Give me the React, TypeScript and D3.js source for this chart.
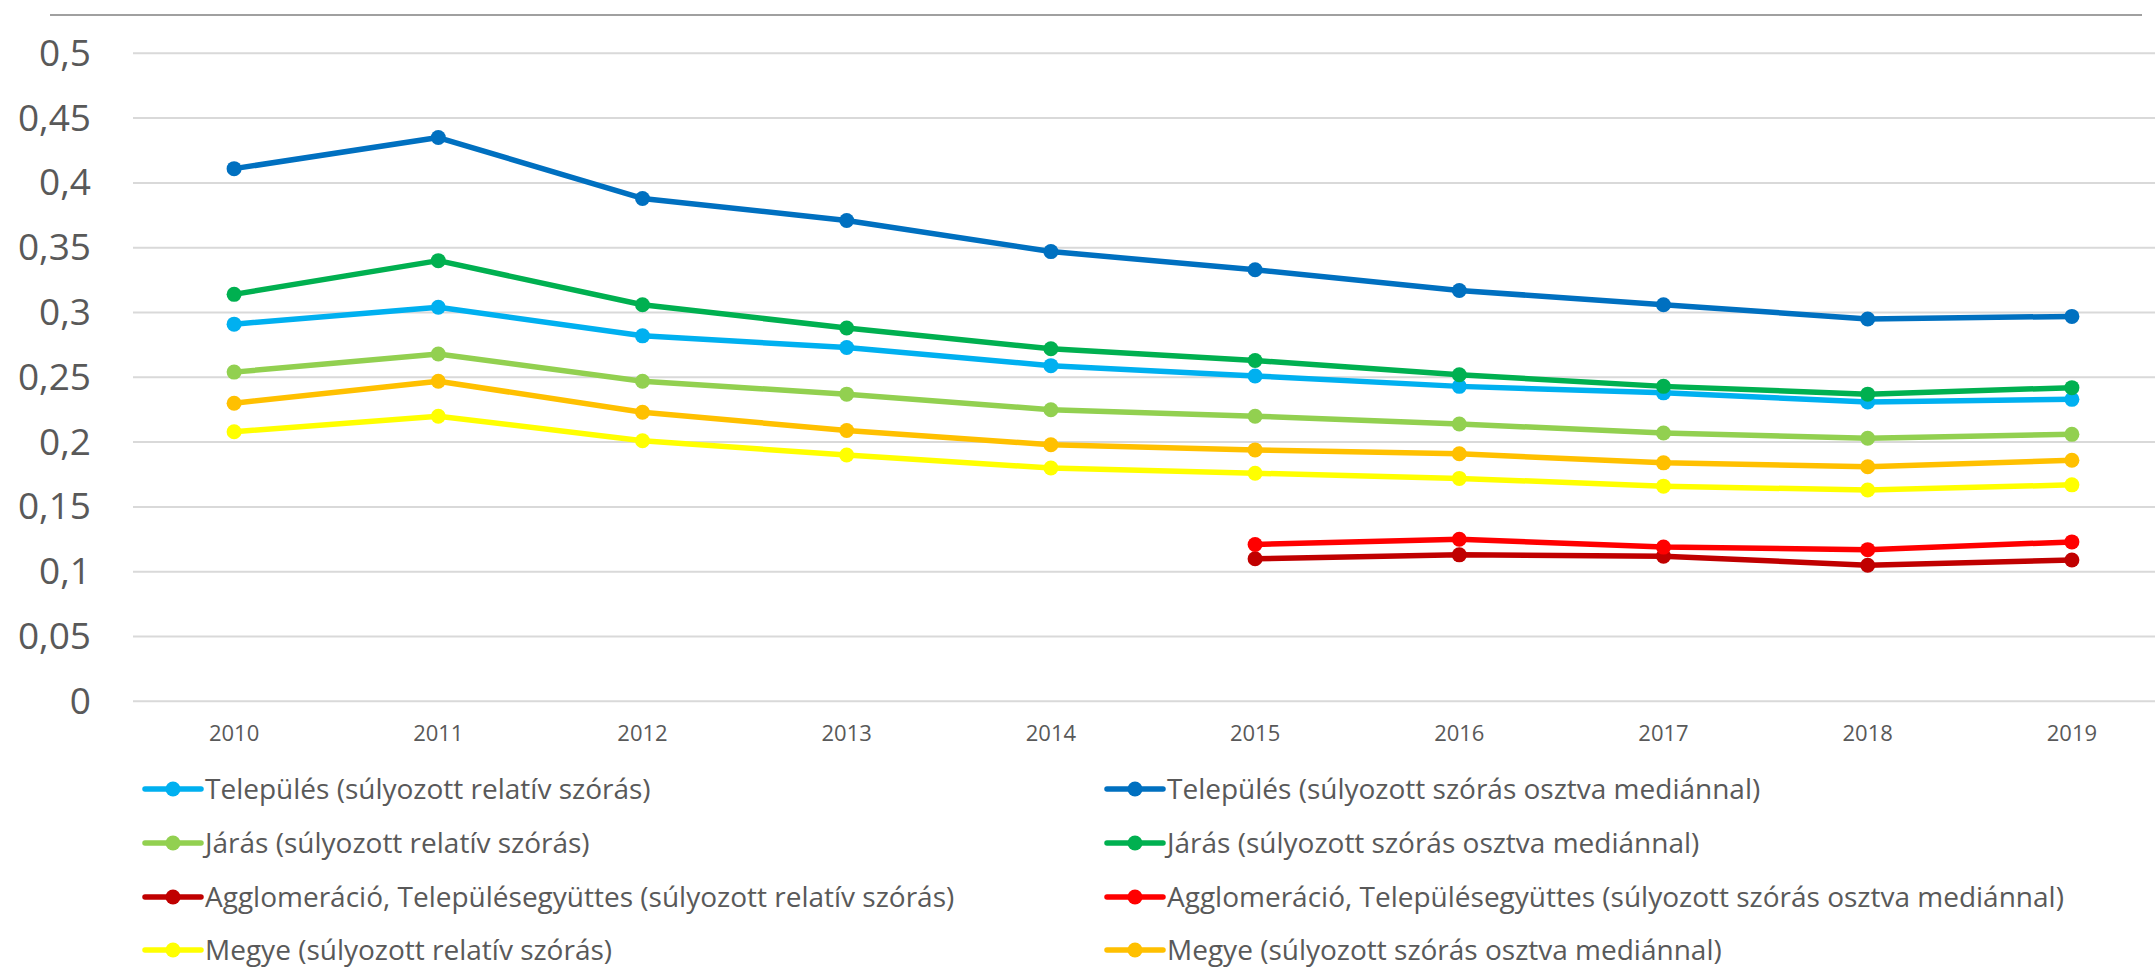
import React from "react";
import * as d3 from "d3";

const years = ["2010", "2011", "2012", "2013", "2014", "2015", "2016", "2017", "2018", "2019"];
const yTicks = [0, 0.05, 0.1, 0.15, 0.2, 0.25, 0.3, 0.35, 0.4, 0.45, 0.5];

const telepulesRel = [0.291, 0.304, 0.282, 0.273, 0.259, 0.251, 0.243, 0.238, 0.231, 0.233];
const telepulesMed = [0.411, 0.435, 0.388, 0.371, 0.347, 0.333, 0.317, 0.306, 0.295, 0.297];
const jarasRel = [0.254, 0.268, 0.247, 0.237, 0.225, 0.22, 0.214, 0.207, 0.203, 0.206];
const jarasMed = [0.314, 0.34, 0.306, 0.288, 0.272, 0.263, 0.252, 0.243, 0.237, 0.242];
const aggloRel = [null, null, null, null, null, 0.11, 0.113, 0.112, 0.105, 0.109];
const aggloMed = [null, null, null, null, null, 0.121, 0.125, 0.119, 0.117, 0.123];
const megyeRel = [0.208, 0.22, 0.201, 0.19, 0.18, 0.176, 0.172, 0.166, 0.163, 0.167];
const megyeMed = [0.23, 0.247, 0.223, 0.209, 0.198, 0.194, 0.191, 0.184, 0.181, 0.186];

const seriesNames = [
  "Település (súlyozott relatív szórás)",
  "Település (súlyozott szórás osztva mediánnal)",
  "Járás (súlyozott relatív szórás)",
  "Járás (súlyozott szórás osztva mediánnal)",
  "Agglomeráció, Településegyüttes (súlyozott relatív szórás)",
  "Agglomeráció, Településegyüttes (súlyozott szórás osztva mediánnal)",
  "Megye (súlyozott relatív szórás)",
  "Megye (súlyozott szórás osztva mediánnal)",
];
const seriesValues: (number | null)[][] = [
  telepulesRel, telepulesMed, jarasRel, jarasMed, aggloRel, aggloMed, megyeRel, megyeMed,
];
const seriesColors = ["#00B0F0", "#0070C0", "#92D050", "#00B050", "#C00000", "#FF0000", "#FFFF00", "#FFC000"];

const W = 2155;
const H = 969;
const FONT = "'Open Sans', 'Noto Sans', sans-serif";
const TEXT = "#595959";

export default function App() {
  const x = d3.scaleBand<string>().domain(years).range([132, 2174]);
  const y = d3.scaleLinear().domain([0, 0.5]).range([701.3, 53.3]);
  const cx = (yr: string) => (x(yr) as number) + x.bandwidth() / 2;

  const line = d3
    .line<number | null>()
    .defined((d) => d != null)
    .x((_, i) => cx(years[i]))
    .y((d) => y(d as number));

  const fmt = (v: number) => String(+v.toFixed(2)).replace(".", ",");

  const legendRows = [789, 843, 897, 950];
  const legendCols = [145, 1107];

  return (
    <svg
      width={W}
      height={H}
      style={{ position: "absolute", left: 0, top: 0, background: "#fff" }}
      fontFamily={FONT}
    >
      <rect x={0} y={0} width={W} height={H} fill="#fff" />
      <line x1={50} x2={2142} y1={15} y2={15} stroke="#a0a0a0" strokeWidth={2} />
      {yTicks.map((t) => (
        <g key={t}>
          <line x1={133} x2={W} y1={y(t)} y2={y(t)} stroke="#d9d9d9" strokeWidth={2} />
          <text x={91} y={y(t) + 12.5} textAnchor="end" fontSize={37} fill={TEXT}>
            {fmt(t)}
          </text>
        </g>
      ))}
      {years.map((yr) => (
        <text key={yr} x={cx(yr)} y={740.5} textAnchor="middle" fontSize={22} fill={TEXT}>
          {yr}
        </text>
      ))}
      {seriesValues.map((vals, si) => (
        <g key={si}>
          <path d={line(vals) || ""} fill="none" stroke={seriesColors[si]} strokeWidth={5.5} strokeLinejoin="round" />
          {vals.map((v, i) =>
            v == null ? null : (
              <circle key={i} cx={cx(years[i])} cy={y(v)} r={7.5} fill={seriesColors[si]} />
            )
          )}
        </g>
      ))}
      {seriesNames.map((name, si) => {
        const col = si % 2;
        const row = Math.floor(si / 2);
        const lx = legendCols[col];
        const ly = legendRows[row];
        return (
          <g key={name}>
            <line x1={lx} x2={lx + 56} y1={ly} y2={ly} stroke={seriesColors[si]} strokeWidth={5.5} strokeLinecap="round" />
            <circle cx={lx + 28} cy={ly} r={7.5} fill={seriesColors[si]} />
            <text x={lx + 60} y={ly + 10} fontSize={28} fill={TEXT}>
              {name}
            </text>
          </g>
        );
      })}
    </svg>
  );
}
